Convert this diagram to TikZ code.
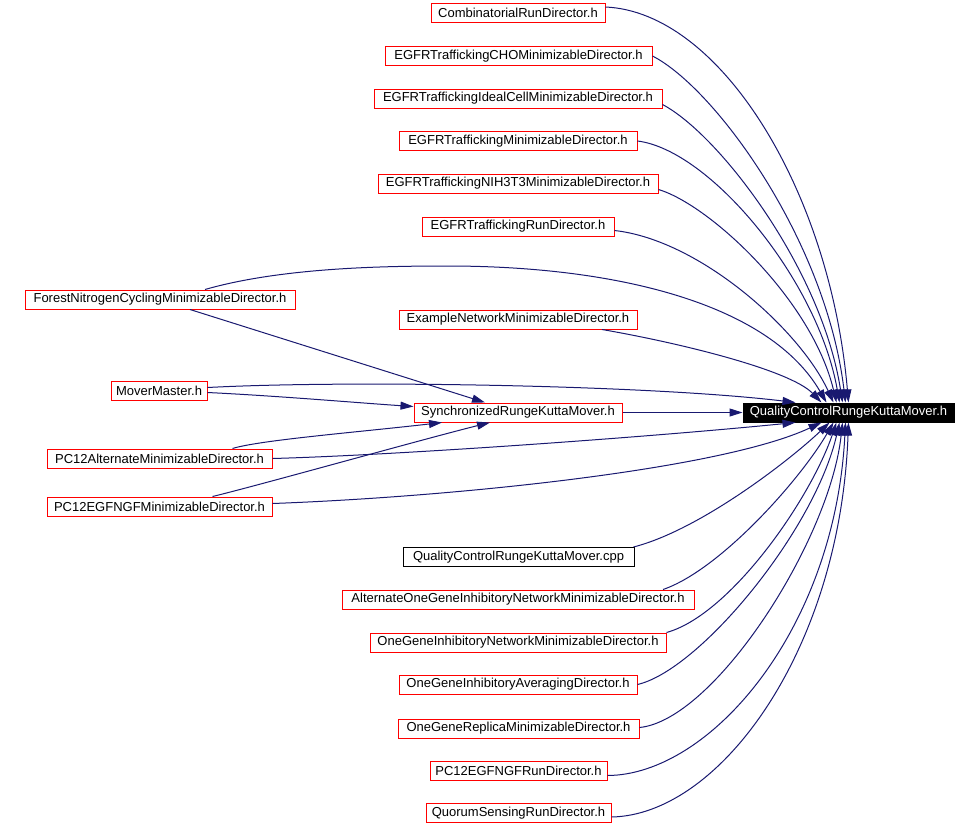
\documentclass[tikz,border=0pt]{standalone}
\usepackage{fontspec}
\setmainfont{Liberation Sans}
\usetikzlibrary{arrows.meta,calc}
\definecolor{edgec}{RGB}{25,25,112}
\definecolor{boxred}{RGB}{255,0,0}
\tikzset{
  filebox/.style={draw=boxred, line width=1pt, minimum height=19pt, inner xsep=0pt, inner ysep=0pt,
    font=\fontsize{13pt}{15pt}\selectfont, text=black, fill=white},
  srcbox/.style={filebox, draw=black},
  mainbox/.style={filebox, draw=black, fill=black, text=white},
  edge/.style={draw=edgec, line width=1pt, -{Triangle[length=13pt,width=8pt]}}
}
\begin{document}
\begin{tikzpicture}[x=1pt,y=-1pt]
\useasboundingbox (0,0) rectangle (980,825);
% nodes
\node[filebox, minimum width=174pt] (comb) at (518,13) {CombinatorialRunDirector.h};
\node[filebox, minimum width=267pt] (cho) at (518.5,56) {EGFRTraffickingCHOMinimizableDirector.h};
\node[filebox, minimum width=288pt] (ideal) at (518,98.5) {EGFRTraffickingIdealCellMinimizableDirector.h};
\node[filebox, minimum width=238pt] (egfrmin) at (518,141) {EGFRTraffickingMinimizableDirector.h};
\node[filebox, minimum width=280pt] (nih) at (518,183.5) {EGFRTraffickingNIH3T3MinimizableDirector.h};
\node[filebox, minimum width=192pt] (egfrrun) at (518,226.5) {EGFRTraffickingRunDirector.h};
\node[filebox, minimum width=270pt] (forest) at (160,299.5) {ForestNitrogenCyclingMinimizableDirector.h};
\node[filebox, minimum width=238pt] (example) at (518,319.5) {ExampleNetworkMinimizableDirector.h};
\node[filebox, minimum width=96pt] (mover) at (159,390.5) {MoverMaster.h};
\node[filebox, minimum width=208pt] (sync) at (518,412.5) {SynchronizedRungeKuttaMover.h};
\node[mainbox, minimum width=211pt] (qc) at (848.5,412.5) {QualityControlRungeKuttaMover.h};
\node[filebox, minimum width=225pt] (pc12alt) at (159.5,458.5) {PC12AlternateMinimizableDirector.h};
\node[filebox, minimum width=225pt] (pc12min) at (159.5,506.5) {PC12EGFNGFMinimizableDirector.h};
\node[srcbox, minimum width=231pt] (cpp) at (518.5,557) {QualityControlRungeKuttaMover.cpp};
\node[filebox, minimum width=352pt] (altone) at (518,599.5) {AlternateOneGeneInhibitoryNetworkMinimizableDirector.h};
\node[filebox, minimum width=296pt] (onenet) at (518,642.5) {OneGeneInhibitoryNetworkMinimizableDirector.h};
\node[filebox, minimum width=238pt] (avg) at (518,684.5) {OneGeneInhibitoryAveragingDirector.h};
\node[filebox, minimum width=241pt] (replica) at (518.5,728.5) {OneGeneReplicaMinimizableDirector.h};
\node[filebox, minimum width=177pt] (pc12run) at (518.5,770.5) {PC12EGFNGFRunDirector.h};
\node[filebox, minimum width=185pt] (quorum) at (518.5,813) {QuorumSensingRunDirector.h};
% edges into the main header from above
\draw[edge] ($(comb.east)+(0,-6)$) .. controls (720,12) and (830,190) .. ($(qc.north)+(0,0)$);
\draw[edge] (cho.east) .. controls (715,88) and (826,240) .. ($(qc.north)+(-3,0)$);
\draw[edge] ($(ideal.east)+(0,6)$) .. controls (720,135) and (822,270) .. ($(qc.north)+(-6,0)$);
\draw[edge] (egfrmin.east) .. controls (710,150) and (818,280) .. ($(qc.north)+(-9,0)$);
\draw[edge] ($(nih.east)+(0,6)$) .. controls (710,205) and (812,300) .. ($(qc.north)+(-12,0)$);
\draw[edge] ($(egfrrun.east)+(0,4)$) .. controls (700,240) and (800,330) .. ($(qc.north)+(-15,0)$);
\draw[edge] ($(forest.north)+(45,0)$) .. controls (280,268) and (380,266) .. (447,266)
  .. controls (620,266) and (770,305) .. ($(qc.north)+(-22,0)$);
\draw[edge] ($(example.south)+(84,0)$) .. controls (680,343) and (790,370) .. ($(qc.north)+(-27,0)$);
\draw[edge] ($(mover.east)+(0,-3)$) .. controls (350,380) and (650,385) .. ($(qc.north)+(-53,0)$);
% edges into the synchronized mover
\draw[edge] ($(mover.east)+(0,2)$) .. controls (280,396) and (360,403) .. ($(sync.west)+(0,-6)$);
\draw[edge] ($(forest.south)+(30,0)$) -- ($(sync.north)+(-33,0)$);
\draw[edge] ($(pc12alt.north)+(73,0)$) .. controls (260,440) and (360,432) .. ($(sync.south)+(-76,0)$);
\draw[edge] ($(pc12min.north)+(53,0)$) .. controls (260,485) and (420,440) .. ($(sync.south)+(-28,0)$);
\draw[edge] (sync.east) -- (qc.west);
% edges into the main header from below
\draw[edge] (pc12alt.east) .. controls (400,455) and (650,437) .. ($(qc.south)+(-53,0)$);
\draw[edge] ($(pc12min.east)+(0,-3)$) .. controls (450,497) and (720,470) .. ($(qc.south)+(-27,0)$);
\draw[edge] ($(cpp.north east)+(-1,0)$) .. controls (700,530) and (790,460) .. ($(qc.south)+(-19,0)$);
\draw[edge] ($(altone.north)+(145,0)$) .. controls (720,570) and (800,480) .. ($(qc.south)+(-15,0)$);
\draw[edge] (onenet.north east) .. controls (730,615) and (810,500) .. ($(qc.south)+(-12,0)$);
\draw[edge] (avg.east) .. controls (700,670) and (815,530) .. ($(qc.south)+(-9,0)$);
\draw[edge] ($(replica.east)+(0,-1)$) .. controls (715,720) and (830,540) .. ($(qc.south)+(-6,0)$);
\draw[edge] ($(pc12run.east)+(0,5)$) .. controls (710,775) and (835,630) .. ($(qc.south)+(-3,0)$);
\draw[edge] ($(quorum.east)+(0,4)$) .. controls (720,815) and (840,650) .. ($(qc.south)+(0,0)$);
\end{tikzpicture}
\end{document}
